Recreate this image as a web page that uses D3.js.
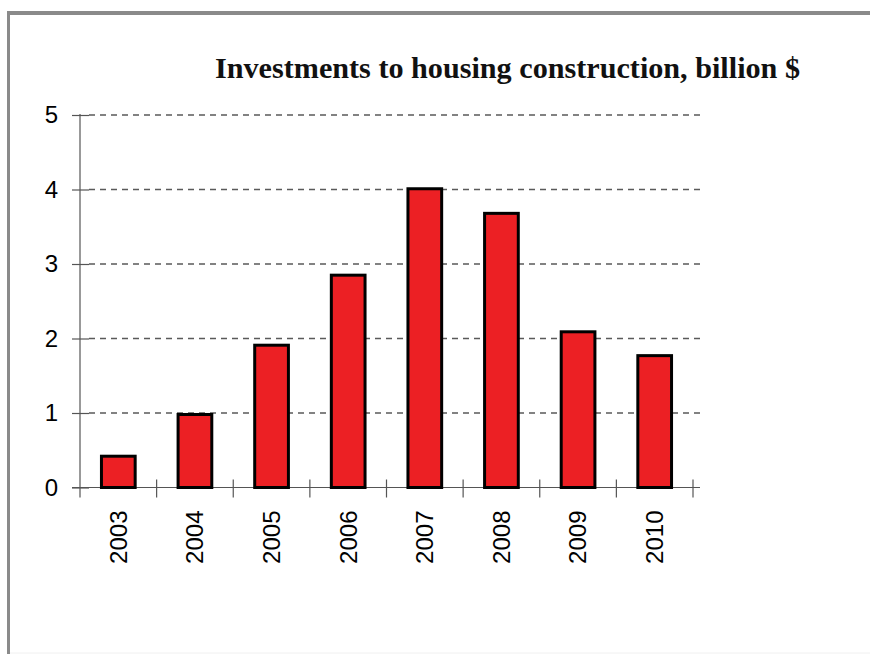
<!DOCTYPE html>
<html>
<head>
<meta charset="utf-8">
<script src="https://cdn.jsdelivr.net/npm/d3@7"></script>
<style>
  html, body { margin: 0; padding: 0; background: #fff; }
  svg { display: block; }
</style>
</head>
<body>
<svg id="chart" width="870" height="654"></svg>
<script>
// Investments to housing construction, billion $
const years = ["2003", "2004", "2005", "2006", "2007", "2008", "2009", "2010"];
const investments = [0.42, 0.98, 1.91, 2.85, 4.01, 3.68, 2.09, 1.77];
const yTicks = [0, 1, 2, 3, 4, 5];
const titleText = "Investments to housing construction, billion $";

const svg = d3.select("#chart");

// Outer frame (top and left edges)
svg.append("line").attr("x1", 7).attr("x2", 870).attr("y1", 13).attr("y2", 13)
  .attr("stroke", "#8a8a8a").attr("stroke-width", 4);
svg.append("line").attr("x1", 8.5).attr("x2", 8.5).attr("y1", 11).attr("y2", 654)
  .attr("stroke", "#8a8a8a").attr("stroke-width", 3);
svg.append("line").attr("x1", 10).attr("x2", 870).attr("y1", 653).attr("y2", 653)
  .attr("stroke", "#f0f0f0").attr("stroke-width", 1);

const plotLeft = 80, plotRight = 693, plotTop = 115, plotBottom = 487.5;

const x = d3.scaleBand().domain(years).range([plotLeft, plotRight])
  .paddingInner(0.56).paddingOuter(0.28);
const xSlots = d3.scaleBand().domain(years).range([plotLeft, plotRight]).padding(0);
const y = d3.scaleLinear().domain([0, 5]).range([plotBottom, plotTop]);

// Dashed gridlines
svg.append("g").selectAll("line").data(yTicks.filter(d => d > 0)).join("line")
  .attr("x1", plotLeft + 9).attr("x2", 700)
  .attr("y1", d => y(d)).attr("y2", d => y(d))
  .attr("stroke", "#5a5a5a").attr("stroke-width", 1.3)
  .attr("stroke-dasharray", "6,5");

// Y axis
const yAxis = svg.append("g").attr("transform", `translate(${plotLeft},0)`)
  .call(d3.axisLeft(y).tickValues(yTicks).tickSize(8).tickPadding(14).tickFormat(d3.format("d")));
yAxis.select(".domain").remove();
yAxis.selectAll(".tick line").attr("stroke", "#555").attr("stroke-width", 1.2).attr("x2", 9).attr("x1", -8);
yAxis.selectAll(".tick text")
  .attr("font-family", "'Liberation Sans', Arial, sans-serif")
  .attr("font-size", 24).attr("fill", "#000");
svg.append("line").attr("x1", plotLeft).attr("x2", plotLeft)
  .attr("y1", plotTop - 1).attr("y2", plotBottom + 10)
  .attr("stroke", "#555").attr("stroke-width", 1.2);

// X axis baseline and slot ticks
svg.append("line").attr("x1", 72).attr("x2", 700)
  .attr("y1", plotBottom).attr("y2", plotBottom)
  .attr("stroke", "#555").attr("stroke-width", 1.2);
const bounds = years.map(d => xSlots(d)).concat([xSlots(years[years.length - 1]) + xSlots.step()]);
svg.append("g").selectAll("line").data(bounds.slice(1)).join("line")
  .attr("x1", d => d).attr("x2", d => d)
  .attr("y1", plotBottom - 8).attr("y2", plotBottom + 10)
  .attr("stroke", "#555").attr("stroke-width", 1.2);

// Bars
svg.append("g").selectAll("rect").data(years).join("rect")
  .attr("x", d => x(d))
  .attr("width", x.bandwidth())
  .attr("y", (d, i) => y(investments[i]))
  .attr("height", (d, i) => y(0) - y(investments[i]))
  .attr("fill", "#ec2024")
  .attr("stroke", "#000").attr("stroke-width", 3);

// Rotated year labels
const xAxis = svg.append("g").attr("transform", `translate(0,${plotBottom})`)
  .call(d3.axisBottom(xSlots).tickSize(0).tickPadding(0));
xAxis.select(".domain").remove();
xAxis.selectAll(".tick text")
  .attr("font-family", "'Liberation Sans', Arial, sans-serif")
  .attr("font-size", 24).attr("fill", "#000")
  .attr("transform", "rotate(-90)")
  .attr("text-anchor", "end")
  .attr("x", -23).attr("y", 0).attr("dy", "0.35em");

// Title
svg.append("text")
  .attr("x", 215).attr("y", 78)
  .attr("font-family", "'Liberation Serif', 'DejaVu Serif', serif")
  .attr("font-weight", "bold").attr("font-size", 30)
  .attr("textLength", 585).attr("lengthAdjust", "spacingAndGlyphs")
  .attr("fill", "#111")
  .text(titleText);
</script>
</body>
</html>
